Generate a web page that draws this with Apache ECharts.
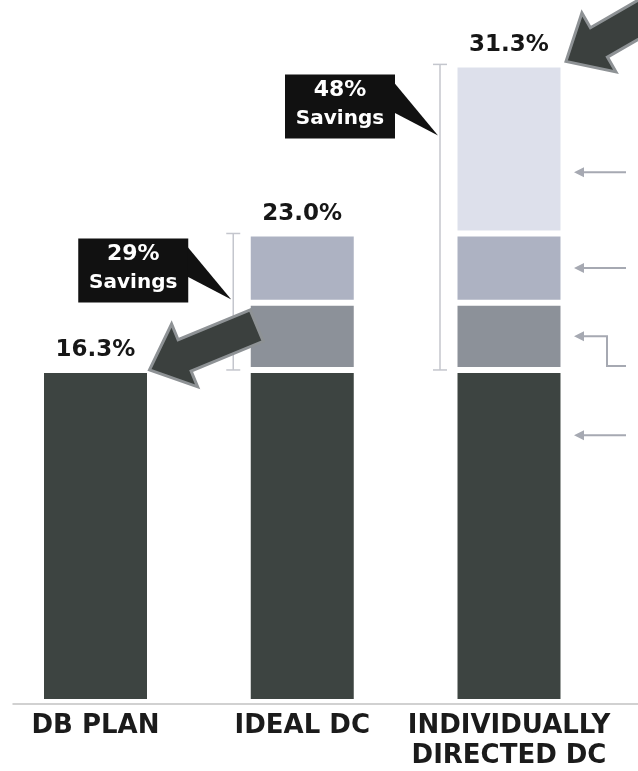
<!DOCTYPE html>
<html>
<head>
<meta charset="utf-8">
<script src="https://cdn.jsdelivr.net/npm/echarts@6.0.0/dist/echarts.min.js"></script>
<style>
  html, body { margin: 0; padding: 0; background: #ffffff; }
  #chart { width: 638px; height: 771px; }
</style>
</head>
<body>
<div id="chart"></div>
<script>
// Retirement-cost comparison: stacked cost components per plan type (% of pay)
const categories = ['DB PLAN', 'IDEAL DC', 'INDIVIDUALLY\nDIRECTED DC'];
const baseCost   = [16.3, 16.3, 16.3];
const tierTwo    = [null, 3.3, 3.3];
const tierThree  = [null, 3.4, 3.4];
const tierFour   = [null, null, 8.3];
const totals     = [16.3, 23.0, 31.3];
const totalLabels = ['16.3%', '23.0%', '31.3%'];
const savingsPct = [null, '29%', '48%'];
// levels (in %) where the side pointer arrows sit next to the last bar
const pointerLevels = [26.0, 21.3, 17.95, 13.1];

const colors = ['#3d4441', '#8c9199', '#adb2c2', '#dde0eb'];
const topSeriesFor = [0, 2, 3];

const chart = echarts.init(document.getElementById('chart'), null, { renderer: 'canvas' });

function segmentSeries(name, data, idx) {
  return {
    name: name,
    type: 'bar',
    stack: 'cost',
    xAxisIndex: 0,
    yAxisIndex: 0,
    data: data,
    barWidth: 109,
    itemStyle: { color: colors[idx], borderColor: '#ffffff', borderWidth: 3 },
    label: {
      show: true,
      position: 'top',
      distance: 8,
      fontFamily: 'DejaVu Sans',
      fontWeight: 'bold',
      fontSize: 23,
      color: '#161616',
      formatter: function (p) {
        return topSeriesFor[p.dataIndex] === idx ? totalLabels[p.dataIndex] : '';
      }
    }
  };
}

const option = {
  animation: false,
  backgroundColor: '#ffffff',
  grid: [
    { left: 95.5, right: 129, top: 9.4, bottom: 68 },
    { left: 13, right: 0, top: 9.4, bottom: 67 }
  ],
  xAxis: [
    {
      type: 'category',
      gridIndex: 0,
      data: categories,
      boundaryGap: false,
      axisLine: { show: false },
      axisTick: { show: false },
      axisLabel: {
        interval: 0,
        margin: 9,
        fontFamily: 'DejaVu Sans',
        fontWeight: 'bold',
        fontSize: 26,
        lineHeight: 30,
        color: '#1b1b1b'
      }
    },
    {
      type: 'value',
      gridIndex: 1,
      min: 0,
      max: 1,
      axisLine: { show: true, lineStyle: { color: '#c2c2c2', width: 1.5 } },
      axisTick: { show: false },
      axisLabel: { show: false },
      splitLine: { show: false }
    }
  ],
  yAxis: [
    { type: 'value', gridIndex: 0, min: 0, max: 34, show: false },
    { type: 'value', gridIndex: 1, min: 0, max: 1, show: false }
  ],
  series: [
    segmentSeries('Base cost', baseCost, 0),
    segmentSeries('Tier 2', tierTwo, 1),
    segmentSeries('Tier 3', tierThree, 2),
    segmentSeries('Tier 4', tierFour, 3)
  ]
};
chart.setOption(option);

// ---- annotations placed from the data coordinates ----
function px(catIdx, v) {
  return chart.convertToPixel({ xAxisIndex: 0, yAxisIndex: 0 }, [categories[catIdx], v]);
}
const halfBar = 54;

function bigArrow(tip, angleDeg, len, headLen, headHalf, shaftHalf) {
  const a = angleDeg * Math.PI / 180;
  const ux = Math.cos(a), uy = -Math.sin(a);
  const vx = Math.sin(a), vy = Math.cos(a);
  const local = [[0, 0], [headLen, -headHalf], [headLen, -shaftHalf], [len, -shaftHalf],
                 [len, shaftHalf], [headLen, shaftHalf], [headLen, headHalf]];
  return local.map(function (p) {
    return [tip[0] + p[0] * ux + p[1] * vx, tip[1] + p[0] * uy + p[1] * vy];
  });
}

const graphics = [];

// range brackets and savings callouts
[1, 2].forEach(function (i) {
  const top = px(i, totals[i]);
  const bot = px(i, baseCost[i]);
  const bx = top[0] - halfBar - 15;
  const stroke = { stroke: '#c4c6cd', lineWidth: 1.5 };
  graphics.push({ type: 'line', shape: { x1: bx, y1: top[1], x2: bx, y2: bot[1] }, style: stroke, z: 5 });
  graphics.push({ type: 'line', shape: { x1: bx - 7, y1: top[1], x2: bx + 7, y2: top[1] }, style: stroke, z: 5 });
  graphics.push({ type: 'line', shape: { x1: bx - 7, y1: bot[1], x2: bx + 7, y2: bot[1] }, style: stroke, z: 5 });

  const boxW = 110, boxH = 64;
  const boxRight = bx - 45;
  const boxTop = i === 1 ? top[1] + 5 : top[1] + 10;
  const boxLeft = boxRight - boxW;
  graphics.push({ type: 'rect', shape: { x: boxLeft, y: boxTop, width: boxW, height: boxH },
                  style: { fill: '#111111' }, z: 6 });
  graphics.push({ type: 'polygon', shape: { points: [[boxRight - 1, boxTop + 8], [boxRight - 1, boxTop + 38], [bx - 2, boxTop + 61]] },
                  style: { fill: '#111111' }, z: 6 });
  graphics.push({ type: 'text', x: boxLeft + boxW / 2, y: boxTop + 16, z: 7,
                  style: { text: savingsPct[i], fill: '#ffffff', font: 'bold 22px "DejaVu Sans"', align: 'center', verticalAlign: 'middle' } });
  graphics.push({ type: 'text', x: boxLeft + boxW / 2, y: boxTop + 44, z: 7,
                  style: { text: 'Savings', fill: '#ffffff', font: 'bold 20px "DejaVu Sans"', align: 'center', verticalAlign: 'middle' } });
});

// big pointer arrows at the DB plan total and the individually directed total
const t0 = px(0, totals[0]);
graphics.push({ type: 'polygon', z: 8,
  shape: { points: bigArrow([t0[0] + halfBar, t0[1]], 22.5, 116, 38, 34, 17) },
  style: { fill: '#3b403e', stroke: '#8e9295', lineWidth: 3, lineJoin: 'miter' } });
const t2 = px(2, totals[2]);
graphics.push({ type: 'polygon', z: 8,
  shape: { points: bigArrow([t2[0] + halfBar + 3, t2[1] - 3], 30, 140, 38, 34, 17) },
  style: { fill: '#3b403e', stroke: '#8e9295', lineWidth: 3, lineJoin: 'miter' } });

// small side pointers next to the last bar
const sideStroke = '#a6a9b2';
pointerLevels.forEach(function (v, k) {
  const p = px(2, v);
  const hx = p[0] + halfBar + 11;
  const y = p[1];
  graphics.push({ type: 'polygon', z: 5, shape: { points: [[hx, y], [hx + 10, y - 5], [hx + 10, y + 5]] },
                  style: { fill: sideStroke } });
  if (k === 2) {
    const yb = px(2, baseCost[2] + 0.2)[1];
    graphics.push({ type: 'polyline', z: 5,
      shape: { points: [[hx + 8, y], [hx + 33, y], [hx + 33, yb], [hx + 52, yb]] },
      style: { stroke: sideStroke, lineWidth: 2, fill: null } });
  } else {
    graphics.push({ type: 'line', z: 5, shape: { x1: hx + 8, y1: y, x2: hx + 52, y2: y },
                    style: { stroke: sideStroke, lineWidth: 2 } });
  }
});

chart.setOption({ graphic: graphics });
</script>
</body>
</html>
